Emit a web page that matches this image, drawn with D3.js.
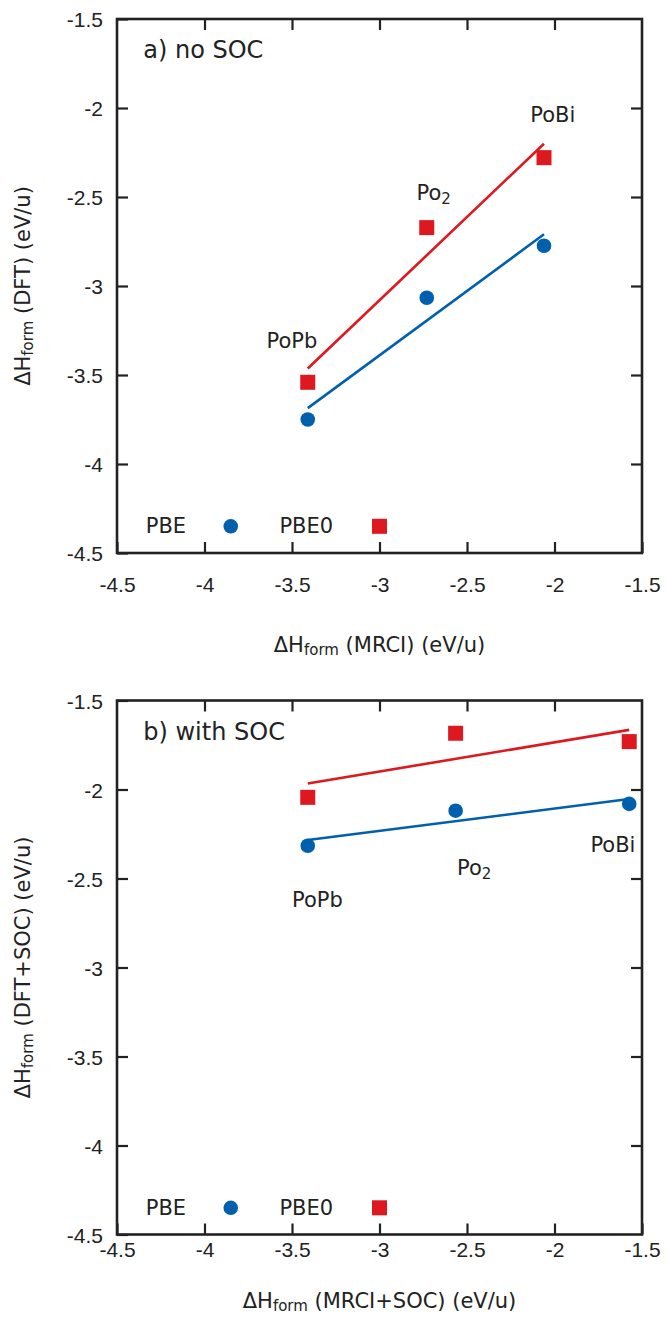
<!DOCTYPE html>
<html>
<head>
<meta charset="utf-8">
<script src="https://cdn.jsdelivr.net/npm/d3@7"></script>
<style>
  html, body { margin: 0; padding: 0; background: #fff; }
  svg { display: block; font-family: 'DejaVu Sans', sans-serif; }
</style>
</head>
<body>
<div id="chart"></div>
<script>
// compounds, same order in every array
const compounds = ['PoPb', 'Po2', 'PoBi'];

// panel a) no SOC
const mrciA = [-3.41, -2.73, -2.06];
const pbeA = [-3.75, -3.066, -2.774];
const pbe0A = [-3.541, -2.672, -2.279];
const labelXA = [-3.50, -2.69, -2.01];
const labelYA = [-3.31, -2.478, -2.04];

// panel b) with SOC
const mrciB = [-3.41, -2.565, -1.573];
const pbeB = [-2.316, -2.119, -2.081];
const pbe0B = [-2.044, -1.684, -1.731];
const labelXB = [-3.355, -2.459, -1.666];
const labelYB = [-2.62, -2.443, -2.312];

// legend: text right ends and sample positions (data units), same for both panels
const legendNames = ['PBE', 'PBE0'];
const legendTextX = [-4.105, -3.265];
const legendX = [-3.85, -3.0];
const legendY = -4.35;

const ticks = [-4.5, -4, -3.5, -3, -2.5, -2, -1.5];

const blue = '#0060ad';
const red = '#dd181f';

const width = 668, height = 1319;
const margin = {left: 117, right: 26};

const svg = d3.select('#chart')
  .append('svg')
  .attr('width', width)
  .attr('height', height);

// least squares line through the points
function fit(xs, ys) {
  const mx = d3.mean(xs), my = d3.mean(ys);
  const sxy = d3.sum(xs, (x, i) => (x - mx) * (ys[i] - my));
  const sxx = d3.sum(xs, x => (x - mx) * (x - mx));
  const k = sxy / sxx;
  const x0 = d3.min(xs), x1 = d3.max(xs);
  return [[x0, my + k * (x0 - mx)], [x1, my + k * (x1 - mx)]];
}

function panel(opt) {
  const x = d3.scaleLinear().domain([-4.5, -1.5]).range([margin.left, width - margin.right]);
  const y = d3.scaleLinear().domain([-4.5, -1.5]).range([opt.bottom, opt.top]);
  const g = svg.append('g');
  const fmt = d => String(d).replace('−', '-');

  // frame ticks (inward, on all sides)
  g.append('g')
    .attr('transform', `translate(0,${opt.bottom})`)
    .call(d3.axisBottom(x).tickValues(ticks).tickSize(-11).tickPadding(opt.xPad).tickFormat(fmt))
    .call(a => a.select('.domain').remove());
  g.append('g')
    .attr('transform', `translate(0,${opt.top})`)
    .call(d3.axisTop(x).tickValues(ticks.slice(1, -1)).tickSize(-11).tickFormat(''))
    .call(a => a.select('.domain').remove());
  g.append('g')
    .attr('transform', `translate(${margin.left},0)`)
    .call(d3.axisLeft(y).tickValues(ticks).tickSize(-11).tickPadding(14).tickFormat(fmt))
    .call(a => a.select('.domain').remove());
  g.append('g')
    .attr('transform', `translate(${width - margin.right},0)`)
    .call(d3.axisRight(y).tickValues(ticks.slice(1, -1)).tickSize(-11).tickFormat(''))
    .call(a => a.select('.domain').remove());

  g.selectAll('.tick line').attr('stroke', '#222').attr('stroke-width', 2.2);
  g.selectAll('.tick text').attr('font-size', 21).attr('fill', '#222');
  g.selectAll('.tick text').attr('dy', null).attr('dominant-baseline', 'central');

  g.append('rect')
    .attr('x', x(-4.5)).attr('y', y(-1.5))
    .attr('width', x(-1.5) - x(-4.5)).attr('height', y(-4.5) - y(-1.5))
    .attr('fill', 'none').attr('stroke', '#222').attr('stroke-width', 2.6);

  // fitted lines
  const line = d3.line().x(d => x(d[0])).y(d => y(d[1]));
  g.append('path').attr('d', line(fit(opt.mrci, opt.pbe0)))
    .attr('stroke', red).attr('stroke-width', 2.6).attr('fill', 'none');
  g.append('path').attr('d', line(fit(opt.mrci, opt.pbe)))
    .attr('stroke', blue).attr('stroke-width', 2.6).attr('fill', 'none');

  // points
  g.selectAll('.pbe0').data(opt.mrci).join('rect')
    .attr('x', (d, i) => x(d) - 7.5).attr('y', (d, i) => y(opt.pbe0[i]) - 7.5)
    .attr('width', 15).attr('height', 15).attr('fill', red);
  g.selectAll('.pbe').data(opt.mrci).join('circle')
    .attr('cx', d => x(d)).attr('cy', (d, i) => y(opt.pbe[i]))
    .attr('r', 7.3).attr('fill', blue);

  // compound labels
  const lab = g.selectAll('.lab').data(compounds).join('text')
    .attr('x', (d, i) => x(opt.labelX[i])).attr('y', (d, i) => y(opt.labelY[i]))
    .attr('text-anchor', 'middle').attr('dominant-baseline', 'central')
    .attr('font-size', 21).attr('fill', '#222');
  lab.each(function(d) {
    const t = d3.select(this);
    if (d === 'Po2') {
      t.append('tspan').text('Po');
      t.append('tspan').text('2').attr('font-size', 15).attr('dy', 6);
    } else {
      t.text(d);
    }
  });

  // panel title
  g.append('text')
    .attr('x', x(-4.35)).attr('y', y(-1.5) + 31)
    .attr('dominant-baseline', 'central')
    .attr('font-size', 24).attr('fill', '#222')
    .text(opt.title);

  // legend
  g.selectAll('.legtext').data(legendNames).join('text')
    .attr('x', (d, i) => x(legendTextX[i])).attr('y', y(legendY))
    .attr('text-anchor', 'end').attr('dominant-baseline', 'central')
    .attr('font-size', 21).attr('fill', '#222').text(d => d);
  g.append('circle').attr('cx', x(legendX[0])).attr('cy', y(legendY)).attr('r', 7.3).attr('fill', blue);
  g.append('rect').attr('x', x(legendX[1]) - 7.5).attr('y', y(legendY) - 7.5)
    .attr('width', 15).attr('height', 15).attr('fill', red);

  // axis titles
  const xt = g.append('text')
    .attr('x', (x(-4.5) + x(-1.5)) / 2).attr('y', opt.xTitleY)
    .attr('text-anchor', 'middle').attr('dominant-baseline', 'central')
    .attr('font-size', 21).attr('fill', '#222');
  xt.append('tspan').text('ΔH');
  xt.append('tspan').text('form').attr('font-size', 15).attr('dy', 5);
  xt.append('tspan').text(' ' + opt.xLabel).attr('dy', -5);

  const cy = (y(-4.5) + y(-1.5)) / 2;
  const yt = g.append('text')
    .attr('transform', `translate(23,${cy}) rotate(-90)`)
    .attr('text-anchor', 'middle').attr('dominant-baseline', 'central')
    .attr('font-size', 21).attr('fill', '#222');
  yt.append('tspan').text('ΔH');
  yt.append('tspan').text('form').attr('font-size', 15).attr('dy', 5);
  yt.append('tspan').text(' ' + opt.yLabel).attr('dy', -5);
}

panel({
  top: 19, bottom: 553, xTitleY: 645, xPad: 31,
  mrci: mrciA, pbe: pbeA, pbe0: pbe0A, labelX: labelXA, labelY: labelYA,
  title: 'a) no SOC', xLabel: '(MRCI) (eV/u)', yLabel: '(DFT) (eV/u)'
});

panel({
  top: 700.5, bottom: 1234.5, xTitleY: 1301, xPad: 15,
  mrci: mrciB, pbe: pbeB, pbe0: pbe0B, labelX: labelXB, labelY: labelYB,
  title: 'b) with SOC', xLabel: '(MRCI+SOC) (eV/u)', yLabel: '(DFT+SOC) (eV/u)'
});
</script>
</body>
</html>
